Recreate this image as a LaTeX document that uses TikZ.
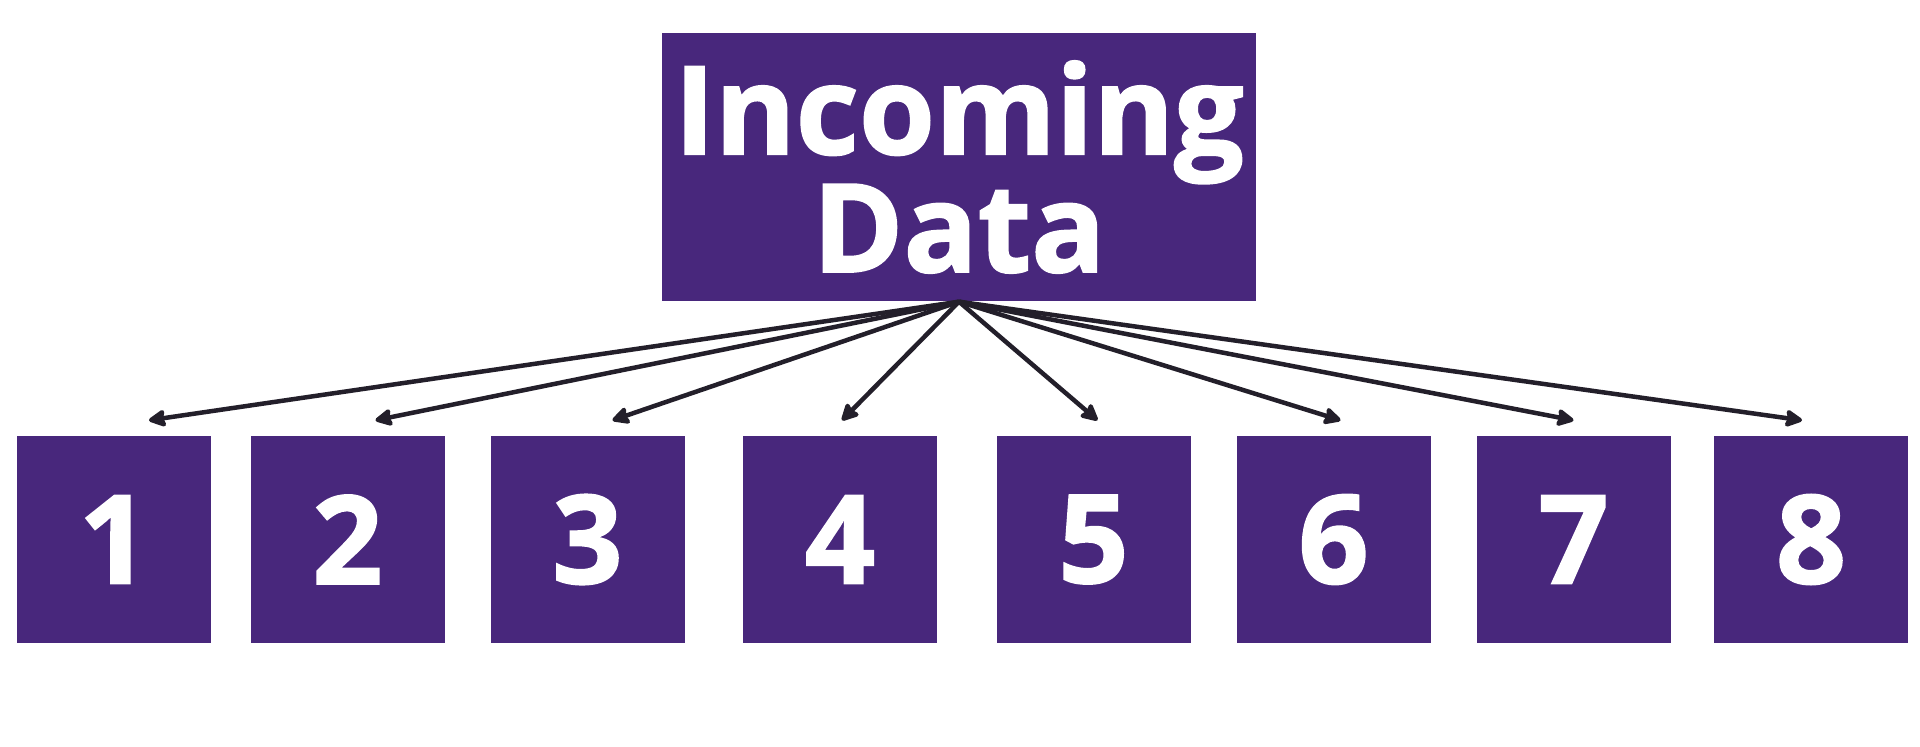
\documentclass[tikz,border=0pt]{standalone}
\usepackage{fontspec}
\setmainfont{Open Sans}[BoldFeatures={FakeBold=1.5}]
\usetikzlibrary{arrows.meta,positioning}
\definecolor{boxpurple}{HTML}{48277C}
\definecolor{arrowdark}{HTML}{231F2A}

\begin{document}
\begin{tikzpicture}[x=0.1mm,y=-0.1mm,
  databox/.style={fill=boxpurple,draw=none,text=white,inner sep=0pt,align=center,
    font=\fontsize{35}{33.5}\selectfont\bfseries},
  splitarrow/.style={draw=arrowdark,line width=0.45mm,-{Stealth[length=2mm,width=2mm,inset=0.3mm,round]}}]

\useasboundingbox[fill=white] (0,0) rectangle (1920,747);

\node[databox,minimum width=59.4mm,minimum height=26.8mm] (incoming) at (959,167) {Incoming\\Data};

\foreach \n/\cx/\dx in {1/114/35,2/347.5/28,3/587.5/25,4/840/2,5/1093.5/4,6/1333.5/7,7/1573.5/0,8/1811/-9}{
  \node[databox,minimum width=19.4mm,minimum height=20.7mm] (part\n) at (\cx,539.5) {\n};
  \draw[splitarrow] (incoming.south) -- ([xshift=\dx*0.1mm,yshift=1.5mm]part\n.north);
}
\end{tikzpicture}
\end{document}
